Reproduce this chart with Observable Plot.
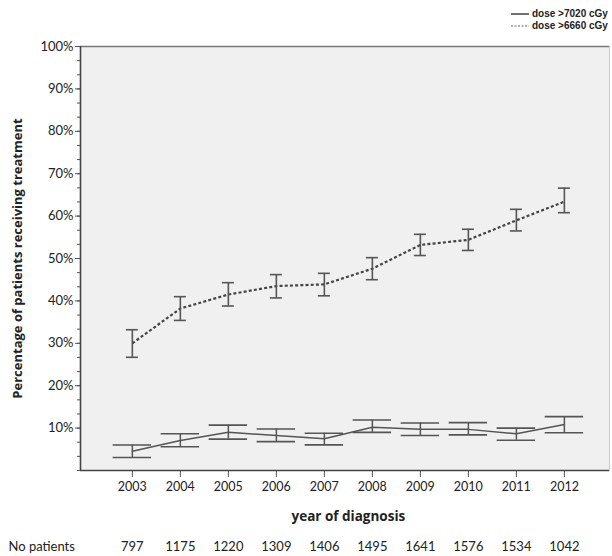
<!DOCTYPE html>
<html><head><meta charset="utf-8">
<script src="https://cdn.jsdelivr.net/npm/d3@7"></script>
<script src="https://cdn.jsdelivr.net/npm/@observablehq/plot@0.6"></script>
<style>
body{margin:0;background:#fff;}
#wrap{position:relative;width:612px;height:556px;overflow:hidden;}
#legend{position:absolute;left:511px;top:8px;font:bold 10px "Liberation Sans",Arial,sans-serif;color:#222;line-height:12px;white-space:nowrap;}
#legend div{display:flex;align-items:center;gap:3px;height:12px;}
#wrap svg.plot{position:absolute;left:0;top:0;}
</style></head><body><div id="wrap"><div id="legend"></div></div>
<script>
const years = [2003, 2004, 2005, 2006, 2007, 2008, 2009, 2010, 2011, 2012];
const patients = [797, 1175, 1220, 1309, 1406, 1495, 1641, 1576, 1534, 1042];
// dose >7020 cGy
const dose7020 = [4.55, 7.1, 9.0, 8.25, 7.5, 10.2, 9.7, 9.7, 8.65, 10.85];
const dose7020Lo = [3.05, 5.6, 7.4, 6.8, 6.05, 9.0, 8.25, 8.4, 7.15, 8.9];
const dose7020Hi = [6.0, 8.65, 10.7, 9.8, 8.8, 11.9, 11.2, 11.3, 10.0, 12.7];
// dose >6660 cGy
const dose6660 = [30.0, 38.2, 41.5, 43.5, 43.9, 47.6, 53.2, 54.4, 59.0, 63.4];
const dose6660Lo = [26.7, 35.4, 38.8, 40.7, 41.2, 45.0, 50.7, 51.9, 56.5, 60.8];
const dose6660Hi = [33.2, 41.0, 44.3, 46.2, 46.5, 50.2, 55.7, 56.9, 61.6, 66.6];
const seriesNames = ["dose >7020 cGy", "dose >6660 cGy"];
const yTicks = [10, 20, 30, 40, 50, 60, 70, 80, 90, 100];

const s1 = years.map((y, i) => ({year: y, v: dose7020[i], lo: dose7020Lo[i], hi: dose7020Hi[i]}));
const s2 = years.map((y, i) => ({year: y, v: dose6660[i], lo: dose6660Lo[i], hi: dose6660Hi[i]}));
const counts = years.map((y, i) => ({year: y, n: patients[i]}));

const ink = "#555";
const capWide = 0.4, capNarrow = 0.125; // half cap widths in year units
const font = "Lato, 'Open Sans', sans-serif";

const minor = d3.range(0, 100.01, 10 / 3);

const chart = Plot.plot({
  width: 612, height: 556,
  marginLeft: 80, marginRight: 3, marginTop: 46, marginBottom: 86,
  style: {fontFamily: font, fontSize: "12.5px", color: "#222", background: "transparent"},
  x: {domain: [2001.92, 2012.94]},
  y: {domain: [0, 100]},
  marks: [
    Plot.frame({fill: "#f0f0f0", stroke: "#ccc"}),
    Plot.ruleY([100], {stroke: "#777", strokeWidth: 1.6}),
    Plot.axisY(minor, {tickSize: 3, text: null, stroke: "#555"}),
    Plot.axisY(yTicks, {tickSize: 5, tickFormat: d => d + "%", tickPadding: 2, fontSize: 13, stroke: "#555", label: null}),
    Plot.axisX(years, {tickSize: 7, tickFormat: d => String(d), tickPadding: 5, fontSize: 12.5, stroke: "#555", label: null}),
    Plot.ruleX([2001.92], {stroke: "#444", strokeWidth: 1.6}),
    Plot.ruleY([0], {stroke: "#444", strokeWidth: 1.6}),
    // dose >7020 cGy (solid)
    Plot.line(s1, {x: "year", y: "v", stroke: ink, strokeWidth: 1.5}),
    Plot.ruleX(s1, {x: "year", y1: "lo", y2: "hi", stroke: ink, strokeWidth: 1.5}),
    Plot.ruleY(s1, {y: "lo", x1: d => d.year - capWide, x2: d => d.year + capWide, stroke: ink, strokeWidth: 1.6}),
    Plot.ruleY(s1, {y: "hi", x1: d => d.year - capWide, x2: d => d.year + capWide, stroke: ink, strokeWidth: 1.6}),
    // dose >6660 cGy (dotted)
    Plot.line(s2, {x: "year", y: "v", stroke: "#444", strokeWidth: 2.2, strokeDasharray: "3,2.2", strokeLinecap: "butt", strokeLinejoin: "miter"}),
    Plot.ruleX(s2, {x: "year", y1: "lo", y2: "hi", stroke: ink, strokeWidth: 1.6}),
    Plot.ruleY(s2, {y: "lo", x1: d => d.year - capNarrow, x2: d => d.year + capNarrow, stroke: ink, strokeWidth: 1.6}),
    Plot.ruleY(s2, {y: "hi", x1: d => d.year - capNarrow, x2: d => d.year + capNarrow, stroke: ink, strokeWidth: 1.6}),
    // axis titles
    Plot.text(["Percentage of patients receiving treatment"], {frameAnchor: "left", textAnchor: "middle", dx: -63, rotate: -90, fontWeight: "bold", fontSize: 13, fill: "#222", fontFamily: "'Open Sans', sans-serif"}),
    Plot.text(["year of diagnosis"], {x: [2007.5], frameAnchor: "bottom", dy: 50, fontWeight: "bold", fontSize: 13.5, fill: "#222", fontFamily: "'Open Sans', sans-serif"}),
    // patient counts row
    Plot.text(counts, {x: "year", text: d => String(d.n), frameAnchor: "bottom", dy: 80, fontSize: 13, fill: "#222"}),
    Plot.text(["No patients"], {frameAnchor: "bottom-left", dx: -72, dy: 80, textAnchor: "start", fontSize: 13, fill: "#222"})
  ]
});
chart.classList.add("plot");
document.getElementById("wrap").appendChild(chart);

// legend
const leg = document.getElementById("legend");
const dashes = [null, "2,1.5"];
seriesNames.forEach((name, i) => {
  const row = document.createElement("div");
  const dash = dashes[i] ? `stroke-dasharray="${dashes[i]}"` : "";
  row.innerHTML = `<svg width="18" height="6"><line x1="0" x2="18" y1="3" y2="3" stroke="${i ? '#666' : '#333'}" stroke-width="${i ? 1.2 : 1.4}" ${dash}/></svg><span>${name}</span>`;
  leg.appendChild(row);
});
</script>
</body></html>
